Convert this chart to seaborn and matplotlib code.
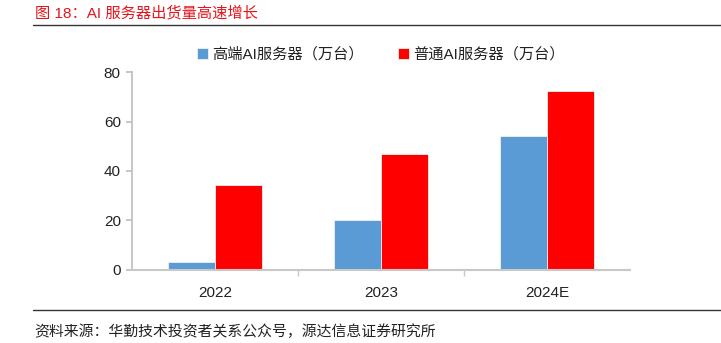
import matplotlib
matplotlib.use("Agg")
import matplotlib.pyplot as plt
import seaborn as sns
import pandas as pd
from matplotlib.lines import Line2D
from matplotlib.ticker import FixedLocator

years = ["2022", "2023", "2024E"]
high_end = [3.2, 20.0, 54.3]
general = [34.3, 47.0, 72.5]
series_names = ["高端AI服务器（万台）", "普通AI服务器（万台）"]
title = "图 18：AI 服务器出货量高速增长"
source = "资料来源：华勤技术投资者关系公众号，源达信息证券研究所"

sns.set_theme(style="white")
plt.rcParams['font.family'] = ['Liberation Sans', 'Noto Sans CJK SC', 'DejaVu Sans']

df = pd.DataFrame({
    "year": years * 2,
    "value": high_end + general,
    "series": [series_names[0]] * 3 + [series_names[1]] * 3,
})

fig = plt.figure(figsize=(7.21, 3.43), dpi=100)
ax = fig.add_axes([0.183, 0.214, 0.691, 0.575])
sns.barplot(data=df, x="year", y="value", hue="series", ax=ax,
            palette=["#5B9BD5", "#FF0000"], width=0.57,
            edgecolor="#f0f0f0", linewidth=0.6, saturation=1)

ax.set_ylim(0, 80)
ax.set_yticks([0, 20, 40, 60, 80])
ax.set_xlim(-0.5, 2.5)
ax.set_xlabel("")
ax.set_ylabel("")
for s in ["top", "right"]:
    ax.spines[s].set_visible(False)
ax.spines["left"].set_color("#bfbfbf")
ax.spines["bottom"].set_color("#c8c8c8")
ax.spines["bottom"].set_linewidth(1.5)
ax.tick_params(axis="y", left=True, length=4, color="#bfbfbf", labelsize=11, labelcolor="#222222", pad=4)
ax.tick_params(axis="x", bottom=False, labelsize=11, labelcolor="#222222", pad=6)
ax.xaxis.set_minor_locator(FixedLocator([0.5, 1.5]))
ax.tick_params(axis="x", which="minor", bottom=True, length=4, color="#c8c8c8")

leg = ax.legend(loc="lower center", bbox_to_anchor=(0.5, 1.0), ncol=2, frameon=False,
                fontsize=11, handlelength=0.7, handleheight=0.7, handletextpad=0.3,
                columnspacing=2.2, borderaxespad=0.3)
for t in leg.get_texts():
    t.set_color("#222222")

fig.text(0.048, 0.962, title, color="#E8141B", fontsize=11, va="center", ha="left")
fig.add_artist(Line2D([0.046, 1.0], [0.926, 0.926], color="#333333", lw=1.0))
fig.add_artist(Line2D([0.046, 1.0], [0.096, 0.096], color="#333333", lw=1.0))
fig.text(0.048, 0.034, source, color="#222222", fontsize=10.7, va="center", ha="left")

fig.savefig("out.png", dpi=100)
